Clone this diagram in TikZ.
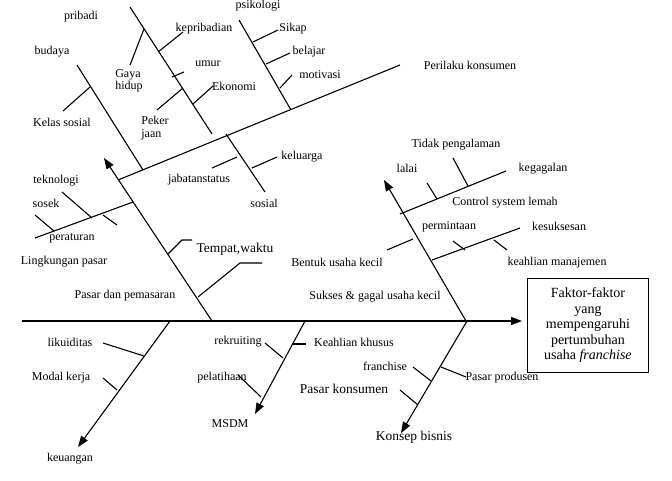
\documentclass[tikz,border=0pt]{standalone}
\usepackage{fontspec}
\setmainfont{Liberation Serif}
\usetikzlibrary{arrows.meta}
\begin{document}
\begin{tikzpicture}[x=1pt,y=-1pt,line width=1.1pt,
  lbl/.style={font=\fontsize{12}{12.5}\selectfont,inner sep=0pt},
  big/.style={font=\fontsize{13.5}{14}\selectfont,inner sep=0pt},
  arr/.style={-{Triangle[length=11pt,width=8pt]}}]
\useasboundingbox (0,0) rectangle (672,480);
% main spine
\coordinate (s0) at (22,321); \coordinate (s1) at (522,321);
\draw[arr] (s0) -- (s1);
\node[draw,line width=0.9pt,minimum width=121pt,minimum height=94pt,align=center,
  font=\fontsize{14}{15.5}\selectfont,anchor=north west] (box) at (527,278)
  {Faktor-faktor\\yang\\mempengaruhi\\pertumbuhan\\usaha \textit{franchise}};
% left upper branch
\coordinate (a0) at (212,321); \coordinate (a1) at (104,158);
\draw[arr] (a0) -- (a1);
\coordinate (p0) at (118,180); \coordinate (p1) at (400,65);
\draw (p0) -- (p1);
\node[lbl] (perilaku) at (470,65) {Perilaku konsumen};
% budaya
\draw (77,65) -- (143,170); \draw (63,111) -- (90,87);
\node[lbl] (budaya) at (52,52) {budaya};
\node[lbl] (kelas) at (62,122) {Kelas sosial};
% pribadi
\draw (130,7) -- (212,134);
\draw (144,29) -- (130,65);
\draw (158,52) -- (183,32);
\draw (172,77) -- (184,72);
\draw (157,110) -- (183,88);
\draw (193,104) -- (213,86);
\node[lbl] (pribadi) at (81,17) {pribadi};
\node[lbl,align=left] (gaya) at (129,81) {Gaya\\hidup};
\node[lbl] (kepri) at (204,29) {kepribadian};
\node[lbl] (umur) at (208,64) {umur};
\node[lbl,align=left] (peker) at (155,128) {Peker\\jaan};
\node[lbl] (eko) at (234,86) {Ekonomi};
% psikologi
\draw (239,20) -- (291,110);
\draw (253,42) -- (278,30); \draw (266,64) -- (290,53); \draw (280,88) -- (292,75);
\node[lbl] (psi) at (258,6) {psikologi};
\node[lbl] (sikap) at (293,29) {Sikap};
\node[lbl] (belajar) at (309,52) {belajar};
\node[lbl] (motiv) at (320,75) {motivasi};
% sosial
\draw (226,134) -- (265,192);
\draw (212,168) -- (237,157); \draw (252,168) -- (277,157);
\node[lbl] (sosial) at (264,203) {sosial};
\node[lbl] (jab) at (199,180) {jabatanstatus};
\node[lbl] (kel) at (302,157) {keluarga};
% lingkungan pasar
\draw (35,238) -- (133,202);
\draw (62,192) -- (92,218); \draw (35,215) -- (54,231); \draw (103,215) -- (117,225);
\node[lbl] (tek) at (56,181) {teknologi};
\node[lbl] (sosek) at (46,203) {sosek};
\node[lbl] (per) at (72,238) {peraturan};
\node[lbl] (ling) at (64,262) {Lingkungan pasar};
% tempat waktu
\draw (168,254) -- (182,240) -- (192,240);
\node[big] (tempat) at (235,249) {Tempat,waktu};
\draw (198,297) -- (240,263) -- (262,263);
\node[lbl] (pasar) at (125,296) {Pasar dan pemasaran};
% right upper branch
\coordinate (b0) at (466,321); \coordinate (b1) at (384,180);
\draw[arr] (b0) -- (b1);
\node[lbl] (sukses) at (375,297) {Sukses \& gagal usaha kecil};
\draw (400,214) -- (506,171);
\draw (427,183) -- (437,199); \draw (453,158) -- (468,186);
\node[lbl] (control) at (505,203) {Control system lemah};
\node[lbl] (tidak) at (456,145) {Tidak pengalaman};
\node[lbl] (lalai) at (407,168) {lalai};
\node[lbl] (gagal) at (543,169) {kegagalan};
\draw (387,250) -- (413,239);
\node[lbl] (bentuk) at (337,262) {Bentuk usaha kecil};
\draw (432,260) -- (520,228);
\draw (453,241) -- (465,250); \draw (494,240) -- (507,250);
\node[lbl] (permin) at (449,227) {permintaan};
\node[lbl] (kesuk) at (559,226) {kesuksesan};
\node[lbl] (keahm) at (557,263) {keahlian manajemen};
% keuangan
\coordinate (c0) at (170,321); \coordinate (c1) at (78,447);
\draw[arr] (c0) -- (c1);
\draw (103,343) -- (144,356); \draw (103,378) -- (117,390);
\node[lbl] (lik) at (70,342) {likuiditas};
\node[lbl] (modal) at (61,378) {Modal kerja};
\node[lbl] (keu) at (70,459) {keuangan};
% MSDM
\coordinate (d0) at (305,321); \coordinate (d1) at (255,414);
\draw[arr] (d0) -- (d1);
\draw (265,343) -- (283,358); \draw (238,375) -- (261,397);
\draw (292,344) -- (306,344);
\node[lbl] (rek) at (238,342) {rekruiting};
\node[lbl] (pel) at (222,378) {pelatihaan};
\node[lbl] (msdm) at (230,424) {MSDM};
\node[lbl] (keahk) at (354,342) {Keahlian khusus};
% konsep bisnis
\coordinate (e0) at (467,321); \coordinate (e1) at (401,433);
\draw[arr] (e0) -- (e1);
\draw (413,367) -- (431,381); \draw (400,390) -- (418,405);
\draw (441,367) -- (466,377);
\node[lbl] (fr) at (385,366) {franchise};
\node[big] (pk) at (344,389) {Pasar konsumen};
\node[lbl] (pp) at (502,378) {Pasar produsen};
\node[big] (kb) at (414,437) {Konsep bisnis};
\end{tikzpicture}
\end{document}
